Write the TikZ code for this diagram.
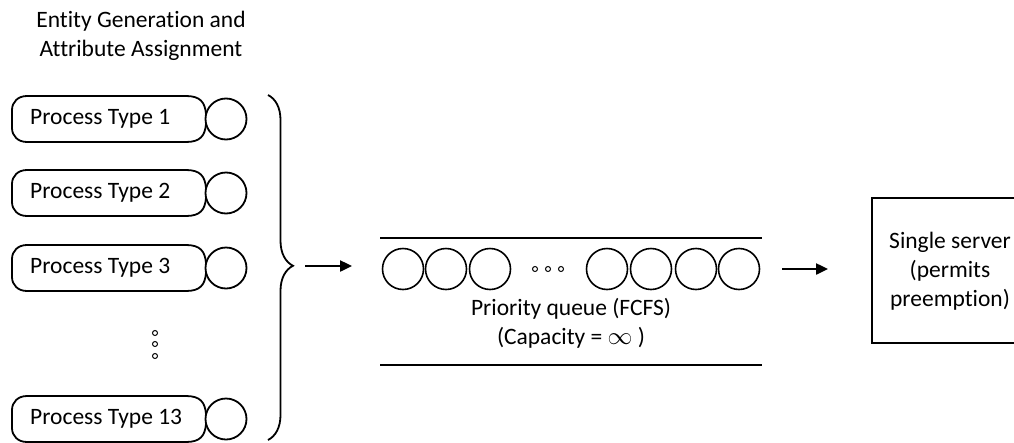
\documentclass[tikz,border=0pt]{standalone}
\usepackage{fontspec}
\setmainfont{Carlito}[Ligatures=NoCommon]
\usetikzlibrary{arrows.meta,decorations.pathreplacing}
\begin{document}
\begin{tikzpicture}[x=1pt,y=-1pt,
  txt/.style={font=\fontsize{23.5}{29}\selectfont, inner sep=0pt, align=center},
  procbox/.style={draw, line width=1.8pt},
  outcirc/.style={draw, line width=1.8pt, circle, minimum size=41pt, inner sep=0pt},
  qcirc/.style={draw, line width=1.6pt, circle, minimum size=41pt, inner sep=0pt},
  dotc/.style={draw, line width=1pt, circle, minimum size=5pt, inner sep=0pt},
  flow/.style={line width=2.4pt, -{Triangle[length=12pt,width=11pt]}},
  rule/.style={line width=1.8pt}]
  \useasboundingbox (0,0) rectangle (1014,442);
  \clip (0,0) rectangle (1014,442);

  % heading
  \node[txt] (title) at (141,36) {Entity Generation and\\Attribute Assignment};

  % process generators: rounded box narrowing into an exit circle
  \foreach \n/\lab/\c in {p1/1/119, p2/2/193, p3/3/268, p13/13/419}{
    \draw[procbox] (206,\c-5) .. controls (205,\c-17) and (200,\c-23) .. (186,\c-23)
      -- (27,\c-23) .. controls (18,\c-23) and (12,\c-17) .. (12,\c-9)
      -- (12,\c+9) .. controls (12,\c+17) and (18,\c+23) .. (27,\c+23)
      -- (186,\c+23) .. controls (200,\c+23) and (205,\c+17) .. (206,\c+5);
    \node[txt, anchor=west] (\n) at (30,\c) {Process Type \lab};
    \node[outcirc] (\n c) at (226,\c) {};
  }

  % vertical ellipsis between the generators
  \node[dotc] (vd1) at (155,333) {};
  \node[dotc] (vd2) at (155,344) {};
  \node[dotc] (vd3) at (155,356) {};

  % brace collecting all generators
  \coordinate (btop) at (268,95);
  \coordinate (bbot) at (268,440);
  \draw[line width=1.8pt, decorate, decoration={brace, amplitude=25pt, aspect=0.495}]
    (btop) -- (bbot);

  % queue
  \coordinate (qtl) at (380,238);
  \coordinate (qtr) at (762,238);
  \coordinate (qbl) at (380,365);
  \coordinate (qbr) at (762,365);
  \draw[rule] (qtl) -- (qtr);
  \draw[rule] (qbl) -- (qbr);
  \foreach \n/\x in {q1/403, q2/446, q3/490, q4/607, q5/651, q6/696, q7/739}{
    \node[qcirc] (\n) at (\x,269) {};
  }
  \node[dotc] (hd1) at (535,269) {};
  \node[dotc] (hd2) at (548,269) {};
  \node[dotc] (hd3) at (561,269) {};
  \node[txt] (qlab) at (571,323) {Priority queue (FCFS)\\(Capacity = $\infty$ )};

  % server
  \draw[line width=1.6pt] (1040,198) -- (872,198) -- (872,343) -- (1040,343);
  \node[txt] (srv) at (950,271) {Single server\\(permits\\preemption)};

  % arrows
  \coordinate (a1s) at (305,266);
  \coordinate (a1e) at (352,266);
  \draw[flow] (a1s) -- (a1e);
  \coordinate (a2s) at (782,269);
  \coordinate (a2e) at (828,269);
  \draw[flow] (a2s) -- (a2e);
\end{tikzpicture}
\end{document}
